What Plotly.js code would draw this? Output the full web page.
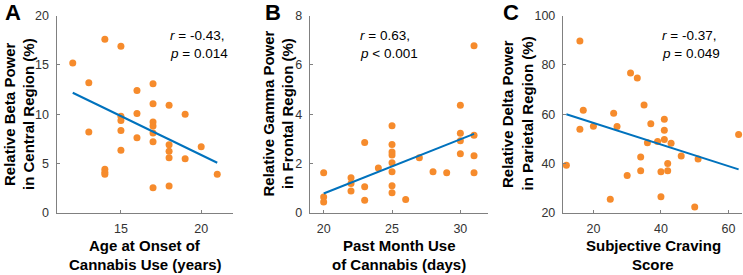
<!DOCTYPE html>
<html>
<head>
<meta charset="utf-8">
<script src="https://cdn.plot.ly/plotly-3.0.1.min.js"></script>
<style>html,body{margin:0;padding:0;background:#fff;}#chart{width:743px;height:275px;}</style>
</head>
<body>
<div id="chart"></div>
<script>
// Panel A: Age at onset vs relative beta power (central)
const ageOnset = [12, 13, 13, 14, 14, 14, 14, 15, 15, 15, 15, 15, 16, 16, 16, 17, 17, 17, 17, 17, 17, 17, 18, 18, 18, 18, 18, 19, 19, 20, 21];
const betaPower = [15.2, 13.2, 8.2, 17.6, 4.4, 4.1, 3.9, 16.9, 9.8, 9.35, 8.35, 6.35, 12.4, 10.07, 7.6, 13.1, 11.05, 9.2, 8.8, 8.1, 7.2, 2.53, 10.9, 6.9, 6.25, 5.57, 2.7, 10.0, 5.47, 6.7, 3.9];
const fitAx = [12, 21];
const fitAy = [12.18, 5.07];

// Panel B: Past month use vs relative gamma power (frontal)
const pastMonth = [20, 20, 20, 22, 22, 22, 23, 23, 23, 24, 25, 25, 25, 25, 25, 25, 25, 25, 26, 27, 28, 29, 30, 30, 30, 30, 31, 31, 31, 31];
const gammaPower = [1.62, 0.64, 0.43, 1.42, 1.19, 0.88, 2.85, 1.05, 0.51, 1.82, 3.53, 2.77, 2.47, 2.34, 2.03, 1.66, 1.09, 0.81, 0.54, 2.23, 1.66, 1.62, 4.36, 3.23, 2.92, 2.39, 6.78, 3.15, 2.31, 1.62];
const fitBx = [20, 31];
const fitBy = [0.78, 3.2];

// Panel C: Subjective craving vs relative delta power (parietal)
const craving = [12, 16, 16, 17, 20, 25, 26, 27, 30, 31, 33, 34, 34, 35, 36, 37, 39, 40, 40, 41, 41, 41, 42, 42, 43, 46, 50, 51, 63];
const deltaPower = [39.3, 89.7, 53.9, 61.6, 55.1, 25.5, 60.4, 55.0, 35.1, 76.7, 74.7, 42.6, 37.0, 63.7, 48.4, 56.1, 48.9, 36.6, 26.5, 58.0, 53.5, 49.7, 40.0, 37.0, 48.2, 43.0, 22.3, 41.8, 51.8];
const fitCx = [12, 63];
const fitCy = [60.0, 37.6];

const xTicksA = [15, 20], yTicksA = [0, 5, 10, 15, 20];
const xTicksB = [20, 25, 30], yTicksB = [0, 2, 4, 6, 8];
const xTicksC = [20, 40, 60], yTicksC = [20, 40, 60, 80, 100];

const W = 743, H = 275;
const px = v => v / W;
const py = v => 1 - v / H;

const ORANGE = '#F68B2C';
const BLUE = '#0072BD';
const FONT = 'Liberation Sans, Arial, Helvetica, sans-serif';
const AXC = '#808080';

function pts(x, y, xa, ya) {
  return {x: x, y: y, xaxis: xa, yaxis: ya, type: 'scatter', mode: 'markers', cliponaxis: false,
    marker: {color: ORANGE, size: 7, line: {width: 0}}, hoverinfo: 'skip', showlegend: false};
}
function fit(x, y, xa, ya) {
  return {x: x, y: y, xaxis: xa, yaxis: ya, type: 'scatter', mode: 'lines', cliponaxis: false,
    line: {color: BLUE, width: 2}, hoverinfo: 'skip', showlegend: false};
}

const data = [
  pts(ageOnset, betaPower, 'x', 'y'), fit(fitAx, fitAy, 'x', 'y'),
  pts(pastMonth, gammaPower, 'x2', 'y2'), fit(fitBx, fitBy, 'x2', 'y2'),
  pts(craving, deltaPower, 'x3', 'y3'), fit(fitCx, fitCy, 'x3', 'y3')
];

function ax(domain, range, tickvals, anchor) {
  return {domain: domain, range: range, tickvals: tickvals, anchor: anchor,
    showgrid: false, zeroline: false, showline: true, linecolor: AXC, linewidth: 1.2,
    ticks: 'inside', ticklen: 3, tickwidth: 1, tickcolor: AXC, ticklabelstandoff: 4,
    tickfont: {family: FONT, size: 12.5, color: '#333'}, fixedrange: true};
}

const yDom = [py(212.7), py(15.7)];
const layout = {
  width: W, height: H, margin: {l: 0, r: 0, t: 0, b: 0},
  paper_bgcolor: '#fff', plot_bgcolor: 'rgba(0,0,0,0)',
  xaxis: ax([px(56.7), px(233.3)], [11, 22], xTicksA, 'y'),
  yaxis: ax(yDom, [0, 20], yTicksA, 'x'),
  xaxis2: ax([px(310), px(487.7)], [19, 32], xTicksB, 'y2'),
  yaxis2: ax(yDom, [0, 8], yTicksB, 'x2'),
  xaxis3: ax([px(563), px(742)], [11, 64], xTicksC, 'y3'),
  yaxis3: ax(yDom, [20, 100], yTicksC, 'x3'),
  annotations: []
};

function ann(text, x, y, opts) {
  return Object.assign({text: text, x: px(x), y: py(y), xref: 'paper', yref: 'paper', showarrow: false,
    xanchor: 'center', yanchor: 'middle', font: {family: FONT, size: 15, color: '#000'}}, opts || {});
}
const A = layout.annotations;
// panel letters
[['A', 12.5], ['B', 272.5], ['C', 511]].forEach(([t, x]) =>
  A.push(ann('<b>' + t + '</b>', x, 12.5, {font: {family: FONT, size: 22, color: '#000'}})));
// y titles
const yTitles = [
  ['Relative Beta Power', 'in Central Region (%)', 9, 28],
  ['Relative Gamma Power', 'in Frontal Region (%)', 267.5, 287],
  ['Relative Delta Power', 'in Parietal Region (%)', 507, 526.5]
];
yTitles.forEach(([l1, l2, x1, x2]) => {
  A.push(ann('<b>' + l1 + '</b>', x1, 114, {textangle: -90}));
  A.push(ann('<b>' + l2 + '</b>', x2, 114, {textangle: -90}));
});
// x titles
const xTitles = [
  ['Age at Onset of', 'Cannabis Use (years)', 145],
  ['Past Month Use', 'of Cannabis (days)', 399],
  ['Subjective Craving', 'Score', 653]
];
xTitles.forEach(([l1, l2, x]) => {
  A.push(ann('<b>' + l1 + '</b>', x, 245.5));
  A.push(ann('<b>' + l2 + '</b>', x, 264.5));
});
// stats
const stats = [
  ['<i>r</i> = -0.43,', '<i>p</i> = 0.014', 167.7],
  ['<i>r</i> = 0.63,', '<i>p</i> < 0.001', 357.7],
  ['<i>r</i> = -0.37,', '<i>p</i> = 0.049', 660]
];
stats.forEach(([l1, l2, x]) => {
  A.push(ann(l1, x, 35.5, {xanchor: 'left', font: {family: FONT, size: 13.5, color: '#000'}}));
  A.push(ann(l2, x, 53, {xanchor: 'left', font: {family: FONT, size: 13.5, color: '#000'}}));
});

Plotly.newPlot('chart', data, layout, {staticPlot: true, displayModeBar: false});
</script>
</body>
</html>
